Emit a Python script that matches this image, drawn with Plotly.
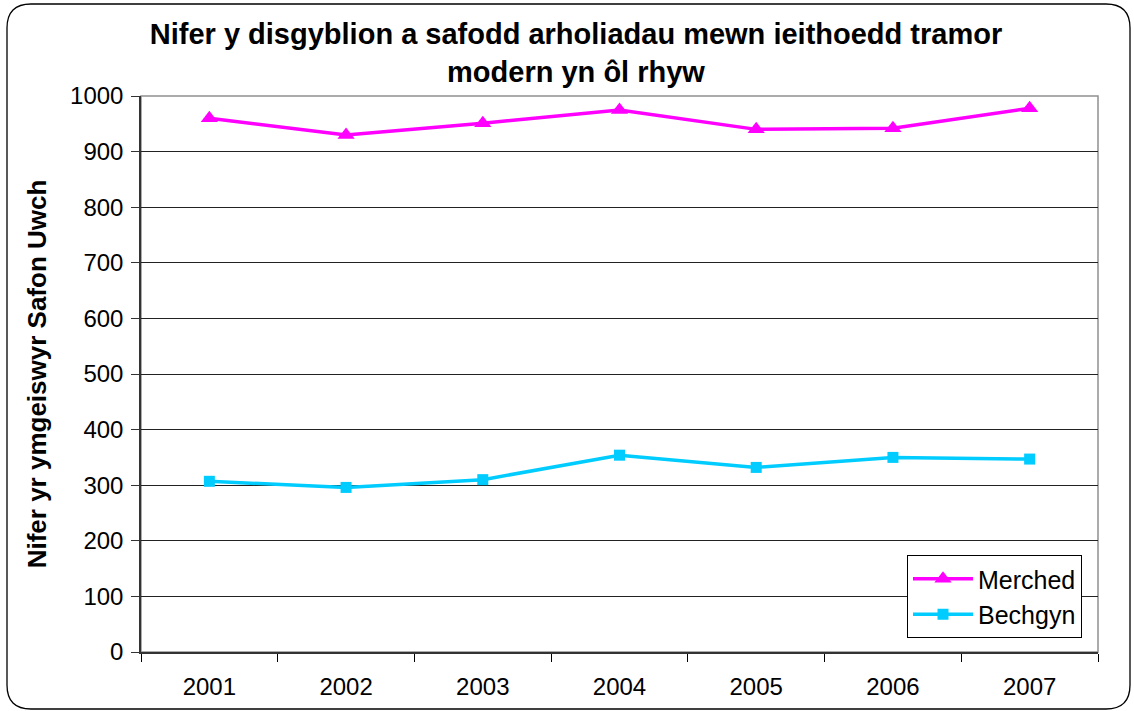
import plotly.graph_objects as go

years = ["2001", "2002", "2003", "2004", "2005", "2006", "2007"]
merched = [960, 930, 951, 975, 940, 942, 978]
bechgyn = [307, 296, 310, 354, 332, 350, 347]
y_ticks = [0, 100, 200, 300, 400, 500, 600, 700, 800, 900, 1000]

W, H = 1134, 711
L, R, T, B = 141, 1098, 96, 652
pw, ph = R - L, B - T

def px(x):
    return (x - L) / pw

def py(y):
    return (B - y) / ph

fig = go.Figure()
fig.add_trace(go.Scatter(x=years, y=merched, name="Merched", mode="lines+markers",
                         line=dict(color="#FF00FF", width=3.5),
                         marker=dict(symbol="triangle-up", size=15, color="#FF00FF")))
fig.add_trace(go.Scatter(x=years, y=bechgyn, name="Bechgyn", mode="lines+markers",
                         line=dict(color="#00CCFF", width=3.5),
                         marker=dict(symbol="square", size=11, color="#00CCFF")))

# plot frame (top/right grey)
fig.add_shape(type="rect", xref="paper", yref="paper", x0=0, x1=1, y0=0, y1=1,
              line=dict(color="#909090", width=1.5), layer="below")

# rounded outer border
x0, x1, y0, y1, r = 7, W - 4, 4, H - 2, 24
path = (f"M {px(x0+r)},{py(y0)} L {px(x1-r)},{py(y0)} Q {px(x1)},{py(y0)} {px(x1)},{py(y0+r)} "
        f"L {px(x1)},{py(y1-r)} Q {px(x1)},{py(y1)} {px(x1-r)},{py(y1)} "
        f"L {px(x0+r)},{py(y1)} Q {px(x0)},{py(y1)} {px(x0)},{py(y1-r)} "
        f"L {px(x0)},{py(y0+r)} Q {px(x0)},{py(y0)} {px(x0+r)},{py(y0)} Z")
fig.add_shape(type="path", path=path, xref="paper", yref="paper",
              line=dict(color="black", width=1.3))

fig.update_layout(
    width=W, height=H,
    margin=dict(l=L, r=W - R, t=T, b=H - B),
    paper_bgcolor="white", plot_bgcolor="white",
    font=dict(family="Liberation Sans, Arial, sans-serif", size=24, color="black"),
    title=dict(text="<b>Nifer y disgyblion a safodd arholiadau mewn ieithoedd tramor<br>modern yn ôl rhyw</b>",
               x=576 / W, xanchor="center", y=1 - 44 / H, yanchor="middle",
               font=dict(size=29)),
    xaxis=dict(type="category", tickson="boundaries", ticks="outside", ticklen=8,
               tickcolor="black", showgrid=False, showline=True, linecolor="#333333",
               linewidth=1.5, tickfont=dict(size=24), range=[-0.5, 6.5],
               ticklabelstandoff=12),
    yaxis=dict(range=[0, 1000], tickvals=y_ticks, ticks="outside", ticklen=8,
               tickcolor="#333333", showgrid=True, gridcolor="#222222", gridwidth=1,
               showline=True, linecolor="#333333", linewidth=1.5,
               tickfont=dict(size=24), zeroline=False, ticklabelstandoff=3,
               title=dict(text="<b>Nifer yr ymgeiswyr Safon Uwch</b>", font=dict(size=26), standoff=16)),
    legend=dict(x=px(907), y=py(555), xanchor="left", yanchor="top",
                bordercolor="black", borderwidth=1, bgcolor="white",
                font=dict(size=25), tracegroupgap=0, itemwidth=60),
    showlegend=True,
)

fig.write_html("out.html", config={"displayModeBar": False},
               post_script="document.body.style.margin='0';document.body.style.overflow='hidden';")
